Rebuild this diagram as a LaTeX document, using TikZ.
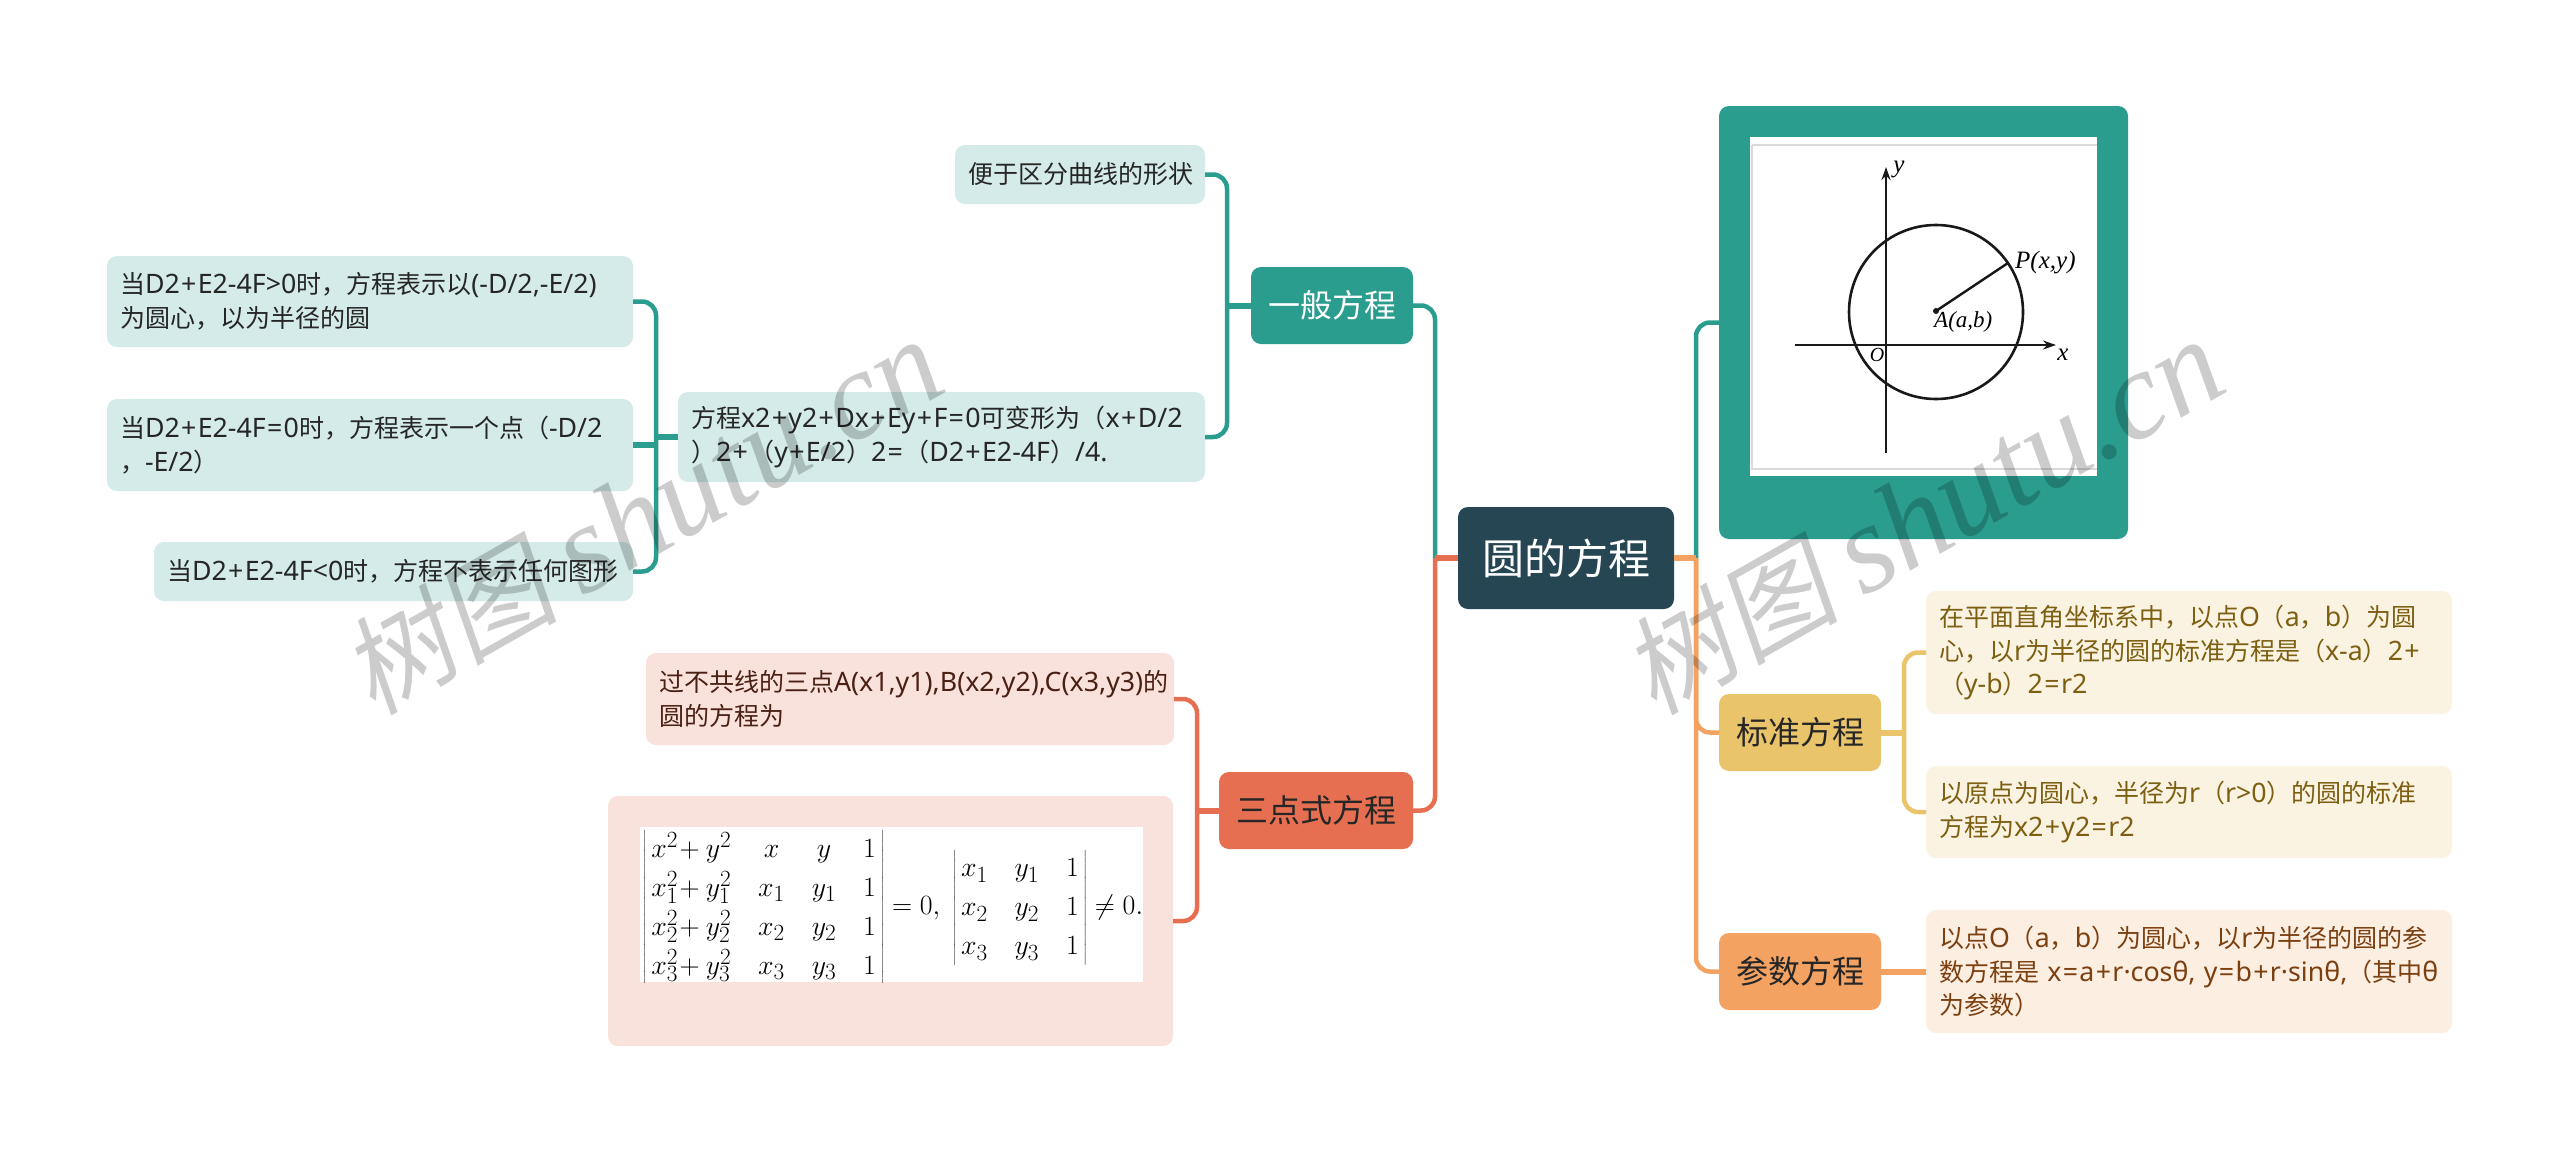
\documentclass[tikz,border=0pt]{standalone}
\usepackage{fontspec}
\setmainfont{Noto Sans CJK SC}
\newfontfamily\wmcjk[FakeSlant=0.18]{Noto Sans CJK SC}
\newfontfamily\wmlat{Liberation Serif}
\newfontfamily\handf{Liberation Serif}
\newfontfamily\latf[Scale=1.07]{Noto Sans}
\newcommand{\latn}[1]{{\latf #1}}
\newcommand{\pl}{\kern.05em+\kern.05em}
\newcommand{\eql}{\kern.05em=\kern.05em}
\usetikzlibrary{arrows.meta}
\definecolor{cteal}{HTML}{2A9D8F}
\definecolor{cnavy}{HTML}{264653}
\definecolor{cred}{HTML}{E76F51}
\definecolor{cyel}{HTML}{E9C46A}
\definecolor{cora}{HTML}{F4A261}
\definecolor{lteal}{HTML}{D4EBE9}
\definecolor{lred}{HTML}{FAE2DC}
\definecolor{lyel}{HTML}{FBF3E1}
\definecolor{lora}{HTML}{FDEEE2}
\definecolor{tyel}{HTML}{7D5F12}
\definecolor{tora}{HTML}{7B3F10}
\definecolor{tred}{HTML}{4A2015}
\tikzset{
  base/.style={anchor=north west,rounded corners=10pt,inner ysep=0pt,outer sep=0pt,align=left},
  rootbox/.style={base,fill=cnavy,text=white,align=center,inner xsep=0pt,font=\fontsize{42}{50}\selectfont},
  topicbox/.style={base,align=center,inner xsep=0pt,font=\fontsize{32}{40}\selectfont},
  leafbox/.style={base,inner xsep=13pt,font=\fontsize{25}{33.5}\selectfont},
  conn/.style={line width=4.5pt,rounded corners=14pt},
  stub/.style={line width=6pt},
  wm/.style={text=black,opacity=0.2,rotate=29.5,inner sep=0pt},
  hand/.style={font=\handf\itshape\fontsize{25}{25}\selectfont,inner sep=0pt}
}
\newcommand{\bx}[7]{\node[#1,minimum width=#5pt,minimum height=#6pt] (#2) at (#3,#4) {#7};}
\newcommand{\lf}[8]{\node[leafbox,fill=#1,text=#2,text width=#6pt-26pt,minimum height=#7pt] (#3) at (#4,#5) {#8};}
\begin{document}
\begin{tikzpicture}[x=1pt,y=-1pt]
\useasboundingbox (0,0) rectangle (2560,1152);
\fill[white] (0,0) rectangle (2560,1152);

% trunks
\coordinate (tl) at (1435,0);
\coordinate (tr) at (1696,0);
\coordinate (tg) at (1227,0);
\coordinate (tf) at (656,0);
\coordinate (ts) at (1197,0);
\coordinate (ty) at (1904,0);

% main nodes
\bx{rootbox}{root}{1458}{507}{216}{102}{圆的方程}
\bx{topicbox,fill=cteal,text=white}{yiban}{1251}{267}{162}{77}{一般方程}
\bx{topicbox,fill=cred,text=black!85}{sandian}{1219}{772}{194}{77}{三点式方程}
\bx{topicbox,fill=cyel,text=black!85}{biaozhun}{1719}{694}{162}{77}{标准方程}
\bx{topicbox,fill=cora,text=black!85}{canshu}{1719}{933}{162}{77}{参数方程}
\node[base,fill=cteal,minimum width=409pt,minimum height=433pt,inner xsep=0pt] (imgbox) at (1719,106) {};
\node[base,fill=lred,minimum width=565pt,minimum height=250pt,inner xsep=0pt] (detbox) at (608,796) {};

% leaves
\lf{lteal}{black!85}{bianyu}{955}{145}{250}{59}{便于区分曲线的形状}
\lf{lteal}{black!85}{fangc}{678}{392}{527}{90}{方程\latn{x2\pl y2\pl Dx\pl Ey\pl F\eql 0}可变形为（\latn{x\pl D/2}\\）\latn{2\pl}（\latn{y\pl E/2}）\latn{2\eql}（\latn{D2\pl E2-4F}）\latn{/4.}}
\lf{lteal}{black!85}{lefta}{107}{256}{526}{91}{当\latn{D2\pl E2-4F>0}时，方程表示以\latn{(-D/2,-E/2)}\\为圆心，以为半径的圆}
\lf{lteal}{black!85}{leftb}{107}{399}{526}{92}{当\latn{D2\pl E2-4F\eql 0}时，方程表示一个点（\latn{-D/2}\\，\latn{-E/2}）}
\lf{lteal}{black!85}{leftc}{154}{542}{479}{59}{当\latn{D2\pl E2-4F<0}时，方程不表示任何图形}
\lf{lred}{tred}{guo}{646}{653}{528}{92}{过不共线的三点\latn{A(x1,y1),B(x2,y2),C(x3,y3)}的\\圆的方程为}
\lf{lyel}{tyel}{stda}{1926}{591}{526}{123}{在平面直角坐标系中，以点\latn{O}（\latn{a}，\latn{b}）为圆\\心，以\latn{r}为半径的圆的标准方程是（\latn{x-a}）\latn{2\pl}\\（\latn{y-b}）\latn{2\eql r2}}
\lf{lyel}{tyel}{stdb}{1926}{766}{526}{92}{以原点为圆心，半径为\latn{r}（\latn{r>0}）的圆的标准\\方程为\latn{x2\pl y2\eql r2}}
\lf{lora}{tora}{para}{1926}{910}{526}{123}{以点\latn{O}（\latn{a}，\latn{b}）为圆心，以\latn{r}为半径的圆的参\\数方程是 \latn{x\eql a\pl r·cosθ, y\eql b\pl r·sinθ,}（其中\latn{θ}\\为参数）}

% connectors
\begin{scope}[cteal]
\draw[conn] (yiban.east) -- (yiban.east -| tl) -- (root.west -| tl);
\draw[conn] (bianyu.east) -- (bianyu.east -| tg) -- (fangc.east -| tg) -- (fangc.east);
\draw[stub] (yiban.west) -- (yiban.west -| tg);
\draw[conn] (lefta.east) -- (lefta.east -| tf) -- (leftc.east -| tf) -- (leftc.east);
\draw[stub] (leftb.east) -- (leftb.east -| tf);
\draw[stub] (fangc.west) -- (fangc.west -| tf);
\draw[conn] (imgbox.west) -- (imgbox.west -| tr) -- (root.east -| tr);
\end{scope}
\begin{scope}[cred]
\draw[conn] (sandian.east) -- (sandian.east -| tl) -- (root.west -| tl);
\draw[stub] (root.west) -- (root.west -| tl);
\draw[conn] (guo.east) -- (guo.east -| ts) -- (detbox.east -| ts) -- (detbox.east);
\draw[stub] (sandian.west) -- (sandian.west -| ts);
\end{scope}
\begin{scope}[cora]
\draw[conn] (canshu.west) -- (canshu.west -| tr) -- (root.east -| tr);
\draw[conn] (biaozhun.west) -- (biaozhun.west -| tr) -- (root.east -| tr);
\draw[stub] (root.east) -- (root.east -| tr);
\draw[stub] (canshu.east) -- (para.west);
\end{scope}
\begin{scope}[cyel]
\draw[conn] (stda.west) -- (stda.west -| ty) -- (stdb.west -| ty) -- (stdb.west);
\draw[stub] (biaozhun.east) -- (biaozhun.east -| ty);
\end{scope}

% circle figure
\fill[white] (1750,137) rectangle (2097,476);
\draw[black!15,line width=1.2pt] (1752,145) -- (2097,145) (1752,145) -- (1752,469) -- (2097,469);
\draw[black!90,line width=2.6pt,-{Stealth[length=13pt,width=9pt]}] (1886,453) -- (1886,167);
\draw[black!90,line width=2.6pt,-{Stealth[length=13pt,width=9pt]}] (1795,345) -- (2056,345);
\draw[black!90,line width=2.6pt] (1936,312) circle (87);
\draw[black!90,line width=2.4pt] (1936,311) -- (2008,263);
\fill[black!90] (1936,311) circle (3);
\node[hand] (lbly) at (1899,169) {y};
\node[hand,anchor=west] (lblp) at (2015,263) {P(x,y)};
\node[hand,anchor=west,font=\handf\itshape\fontsize{23}{23}\selectfont] (lbla) at (1934,322) {A(a,b)};
\node[hand,font=\handf\itshape\fontsize{20}{20}\selectfont] (lblo) at (1877,355) {O};
\node[hand] (lblx) at (2063,355) {x};

% determinant
\fill[white] (640,827) rectangle (1143,982);
\begin{scope}
\clip (640,827) rectangle (1143,982);
\node[inner sep=0pt,anchor=center,scale=1.12] (det) at (893,908) {\fontsize{24.88}{30}\selectfont
$\setlength{\arraycolsep}{12pt}\renewcommand{\arraystretch}{1.16}
\left|\begin{array}{@{\,}cccc@{\,}}
x^2\!+y^2 & x & y & 1\\
x_1^2\!+y_1^2 & x_1 & y_1 & 1\\
x_2^2\!+y_2^2 & x_2 & y_2 & 1\\
x_3^2\!+y_3^2 & x_3 & y_3 & 1
\end{array}\right|=0,\;
\left|\begin{array}{@{\,}ccc@{\,}}
x_1 & y_1 & 1\\
x_2 & y_2 & 1\\
x_3 & y_3 & 1
\end{array}\right|\neq0.$};
\end{scope}

% watermark
\node[wm] (wma) at (642,517) {\wmcjk\fontsize{108}{108}\selectfont 树图\ \wmlat\itshape\fontsize{126}{126}\selectfont shutu.cn};
\node[wm] (wmb) at (1923,517) {\wmcjk\fontsize{108}{108}\selectfont 树图\ \wmlat\itshape\fontsize{126}{126}\selectfont shutu.cn};
\end{tikzpicture}
\end{document}
